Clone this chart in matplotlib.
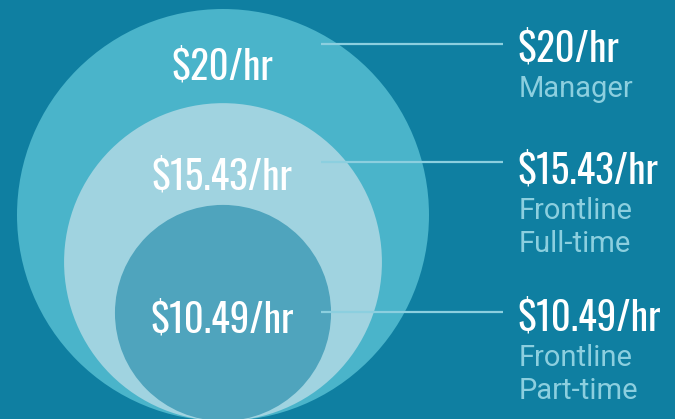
import matplotlib.pyplot as plt
from matplotlib.patches import Circle

rates = [20, 15.43, 10.49]
rate_labels = ['$20/hr', '$15.43/hr', '$10.49/hr']
roles = [['Manager'], ['Frontline', 'Full-time'], ['Frontline', 'Part-time']]

bg = '#0f7fa1'
fills = ['#4ab4ca', '#a0d3e0', '#4fa4bd']
light = '#8ccfdf'

narrow = ['Oswald', 'Roboto Condensed', 'DejaVu Sans']
plt.rcParams['font.family'] = ['Roboto', 'DejaVu Sans']

fig = plt.figure(figsize=(6.75, 4.19), dpi=100)
fig.patch.set_facecolor(bg)
ax = fig.add_axes([0, 0, 1, 1])
ax.set_facecolor(bg)
ax.set_xlim(0, 675)
ax.set_ylim(419, 0)
ax.axis('off')

# circles sized by rate, all touching the same bottom point
scale = 10.3
cx, bottom = 223, 421
for rate, c in zip(rates, fills):
    r = rate * scale
    ax.add_patch(Circle((cx, bottom - r), r, facecolor=c, edgecolor='none'))

inner_y = [79, 189, 332]
right_y = [61, 183, 330]
line_y = [44, 162, 312]
for lab, role, iy, ry, ly in zip(rate_labels, roles, inner_y, right_y, line_y):
    ax.text(cx - 1, iy, lab, color='white', fontsize=28, family=narrow,
            ha='center', va='baseline')
    ax.plot([321, 503], [ly, ly], color=light, lw=1.6, solid_capstyle='butt')
    ax.text(517, ry, lab, color='white', fontsize=28, family=narrow,
            ha='left', va='baseline')
    for k, line in enumerate(role):
        ax.text(519, ry + 36 + 33 * k, line, color=light, fontsize=21,
                ha='left', va='baseline')

fig.savefig('out.png', dpi=100, facecolor=bg)
